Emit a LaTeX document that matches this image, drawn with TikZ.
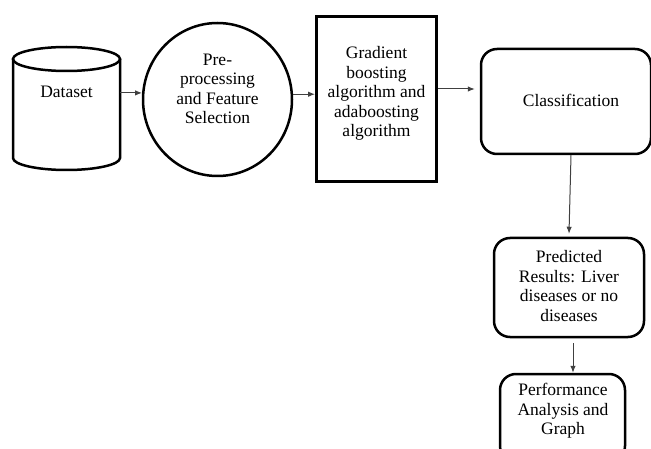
\documentclass[tikz,border=0pt]{standalone}
\usepackage{fontspec}
\setmainfont{Liberation Serif}
\newfontfamily\tnr{Liberation Serif}
\usetikzlibrary{shapes.geometric,arrows.meta,calc}
\begin{document}
\begin{tikzpicture}[x=1pt,y=-1pt,
  txt/.style={align=center,inner sep=0pt,font=\tnr\fontsize{17.5}{19.5}\selectfont},
  rbox/.style={draw,line width=2.5pt,rounded corners=16pt,inner sep=0pt},
  arr/.style={draw=black!75,line width=1pt,-{Latex[length=7pt,width=5.5pt]}}]
\useasboundingbox (0,0) rectangle (651,449);
\clip (0,0) rectangle (651,449);
\fill[white] (0,0) rectangle (651,449);
% cylinder
\node[minimum width=107pt,minimum height=123pt,inner sep=0pt] (ds) at (66.5,108.5) {};
\draw[line width=2.5pt] (13,59) -- (13,158) arc[start angle=180,end angle=360,x radius=53.5,y radius=-12] -- (120,59);
\draw[line width=2.5pt] (66.5,59) ellipse[x radius=53.5,y radius=12];
\node[txt] (dst) at (66.5,92) {Dataset};
% circle
\node[draw,ellipse,line width=2.5pt,minimum width=149pt,minimum height=153pt,inner sep=0pt] (pre) at (217.5,99.5) {};
\node[txt] (pret) at (217.5,89) {Pre-\\processing\\and Feature\\Selection};
% rectangle
\node[draw,line width=3pt,minimum width=120pt,minimum height=165pt,inner sep=0pt] (alg) at (376.5,99) {};
\node[txt] (algt) at (376.5,93.5) {Gradient\\boosting\\algorithm and\\adaboosting\\algorithm};
% classification
\node[rbox,minimum width=170pt,minimum height=105pt] (cls) at (566,101.5) {};
\node[txt] (clst) at (571,100) {Classification};
% predicted
\node[rbox,minimum width=150pt,minimum height=99pt] (pred) at (569,287.5) {};
\node[txt] (predt) at (569,286) {Predicted\\Results: Liver\\diseases or no\\diseases};
% performance
\node[rbox,minimum width=125pt,minimum height=88pt] (perf) at (562.5,418) {};
\node[txt] (perft) at (563,411) {Performance\\Analysis and\\Graph};
% arrows
\draw[arr] (ds.east |- pre.175) -- (pre.175);
\draw[arr] (pre.4) -- (alg.west |- pre.4);
\draw[arr] ([yshift=10pt]alg.east) -- ([yshift=10pt,xshift=-5pt]alg.east -| cls.west);
\draw[arr] ([xshift=2pt]cls.south -| pred.north) -- ([yshift=3pt]pred.north);
\draw[arr] ([xshift=4pt,yshift=-5pt]pred.south) -- ([xshift=4pt]pred.south |- perf.north);
\end{tikzpicture}
\end{document}
